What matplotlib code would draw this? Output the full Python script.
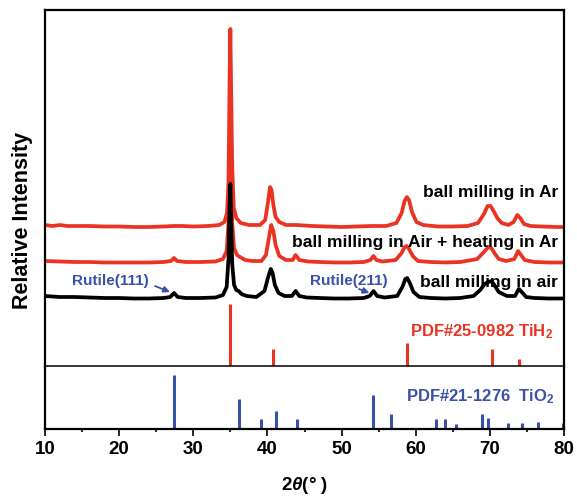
import matplotlib
matplotlib.use("Agg")
import matplotlib.pyplot as plt
import numpy as np

plt.rcParams['font.family'] = ['Liberation Sans', 'DejaVu Sans']
plt.rcParams['font.weight'] = 'bold'
plt.rcParams['mathtext.fontset'] = 'custom'
plt.rcParams['mathtext.rm'] = 'Liberation Sans:bold'
plt.rcParams['mathtext.bf'] = 'Liberation Sans:bold'
plt.rcParams['mathtext.it'] = 'Liberation Sans:bold:italic'

RED = '#eb3324'
BLUE = '#3a52a6'

# ---- data ----
# ball milling in Ar (top red)
tt_ar = [10, 11, 12, 13, 14, 16, 18, 20, 22, 24, 26, 27.4, 28.5, 30, 32, 33.5, 34.2, 34.55, 34.75, 34.9,
         35.0, 35.1, 35.25, 35.45, 35.8, 36.4, 37.5, 39.0, 39.7, 40.1, 40.35, 40.55, 40.8, 41.1, 41.6, 42.5,
         44, 46, 48, 50, 52, 54, 56, 57.4, 58.1, 58.5, 58.8, 59.1, 59.5, 60.1, 61, 63, 65, 67, 68.4, 69.2,
         69.7, 70.1, 70.5, 71.0, 71.6, 72.5, 73.2, 73.7, 74.1, 74.6, 75.5, 77, 79, 80]
int_ar = [2, 1, 2, 1, 1, 1, 0.5, 0.5, 0, 0, 0.5, 1, 1, 0.5, 1, 2, 5, 14, 45, 150,
          198, 140, 60, 20, 9, 4, 2, 2, 7, 26, 40, 37, 22, 10, 5, 2,
          2, 1, 0.5, 0, 0.5, 1, 1, 4, 14, 26, 30, 27, 15, 5, 2, 0.5, 0.5, 1, 4, 13,
          21, 21, 16, 9, 4, 2, 5, 12, 9, 3, 1, 0.5, 0, 0]

# ball milling in Air + heating in Ar (middle red)
tt_air_ar = [10, 12, 14, 16, 18, 20, 22, 24, 26, 27.0, 27.4, 27.8, 29, 31, 33, 34.0, 34.5, 34.75, 34.9, 35.0,
             35.1, 35.25, 35.5, 35.9, 36.3, 37.0, 38, 39.2, 39.8, 40.2, 40.5, 40.8, 41.1, 41.6, 42.5, 43.4,
             43.8, 44.3, 45.5, 47, 49, 51, 53, 53.9, 54.3, 54.7, 55.5, 57.3, 58.1, 58.5, 58.8, 59.1, 59.6,
             60.3, 62, 64, 66, 68.3, 69.2, 69.8, 70.2, 70.6, 71.2, 72.2, 73.3, 73.8, 74.2, 74.7, 76, 78, 80]
int_air_ar = [2, 1.5, 1, 1, 0.5, 0.5, 0.5, 0.5, 1, 2, 5, 2, 1, 1, 1.5, 4, 12, 40, 110, 150,
              100, 40, 15, 8, 6, 3, 2, 2, 8, 25, 38, 32, 18, 7, 3, 3,
              8, 3, 1.5, 1, 0.5, 0.5, 1, 3, 7, 3, 1.5, 3, 10, 16, 17, 14, 7,
              2, 1, 0.5, 1, 4, 11, 16, 15, 10, 4, 2, 4, 12, 8, 3, 1, 0.5, 0.5]

# ball milling in air (black)
tt_air = [10, 12, 14, 16, 18, 20, 22, 24, 26, 26.9, 27.4, 27.9, 29, 31, 33, 34.0, 34.5, 34.75, 34.9, 35.0,
          35.1, 35.25, 35.5, 35.8, 36.1, 36.5, 37.2, 38.5, 39.6, 40.1, 40.45, 40.7, 41.0, 41.5, 42.3, 43.3,
          43.8, 44.3, 45.3, 47, 49, 51, 53, 53.8, 54.3, 54.8, 55.8, 57.5, 58.2, 58.6, 58.85, 59.2, 59.7,
          60.5, 62, 64, 66, 67.8, 68.7, 69.3, 69.8, 70.2, 70.6, 71.2, 72.3, 73.4, 73.9, 74.3, 74.9, 76, 78, 80]
int_air = [3, 2, 2, 1.5, 1, 1, 0.5, 0.5, 1, 2, 6, 2, 1, 1, 1.5, 4, 12, 40, 95, 115,
           80, 35, 14, 9, 8, 5, 3, 2, 8, 22, 30, 26, 14, 6, 3, 3,
           8, 3, 1.5, 1, 0.5, 0.5, 1, 3, 8, 3, 1.5, 3, 12, 20, 21, 16, 7,
           2, 1, 0.5, 1, 3, 9, 15, 17, 18, 14, 7, 3, 3, 10, 7, 2, 1, 0.5, 0.5]

offset_ar, offset_air_ar, offset_air = 139, 103, 67

# PDF#25-0982 TiH2 reference sticks (relative intensity %)
tih2_pos = [35.0, 40.7, 58.8, 70.3, 73.9]
tih2_int = [100, 28, 37, 27, 11]
tih2_scale = 0.62

# PDF#21-1276 TiO2 (rutile) reference sticks (relative intensity %)
tio2_pos = [27.4, 36.1, 39.2, 41.2, 44.0, 54.3, 56.6, 62.7, 64.0, 65.5, 69.0, 69.8, 72.4, 74.4, 76.5, 79.8]
tio2_int = [100, 56, 19, 33, 19, 63, 28, 19, 19, 9, 28, 20, 11, 11, 13, 11]

xticks = [10, 20, 30, 40, 50, 60, 70, 80]

# ---- figure ----
W, H = 577, 500
fig = plt.figure(figsize=(W / 100, H / 100), dpi=100)
L, R = 45, 564
TOP, MID, BOT = 10, 366, 429
ax1 = fig.add_axes([L / W, 1 - MID / H, (R - L) / W, (MID - TOP) / H])
ax2 = fig.add_axes([L / W, 1 - BOT / H, (R - L) / W, (BOT - MID) / H], sharex=ax1)

lw = 2.7
ax1.plot(tt_ar, np.array(int_ar) + offset_ar, color=RED, lw=lw)
ax1.plot(tt_air_ar, np.array(int_air_ar) + offset_air_ar, color=RED, lw=lw)
ax1.plot(tt_air, np.array(int_air) + offset_air, color='black', lw=lw)
ax1.vlines(tih2_pos, 0, np.array(tih2_int) * tih2_scale, color=RED, lw=2.2)
ax2.vlines(tio2_pos, 0, tio2_int, color=BLUE, lw=2.2)

ax1.set_xlim(10, 80)
ax1.set_ylim(0, 356)
ax2.set_ylim(0, 117)

for ax in (ax1, ax2):
    ax.set_yticks([])
    for s in ax.spines.values():
        s.set_linewidth(1.6)
ax1.spines['bottom'].set_visible(False)
ax2.spines['top'].set_linewidth(1.1)
ax1.tick_params(axis='x', bottom=False, labelbottom=False)
ax2.set_xticks(xticks)
ax2.set_xticks(np.arange(15, 80, 10), minor=True)
ax2.tick_params(axis='x', which='major', direction='out', length=5, width=1.2, labelsize=13.5, pad=4)
ax2.tick_params(axis='x', which='minor', direction='out', length=2.5, width=1.2)
for t in ax2.get_xticklabels():
    t.set_fontweight('bold')

ax2.set_xlabel(r'2$\theta$(° )', fontsize=13.5, fontweight='bold', labelpad=12)
fig.text(23 / W, 1 - 220 / H, 'Relative Intensity', rotation=90, ha='center', va='center',
         fontsize=15.5, fontweight='bold')

fs = 12.5
ax1.text(79.2, 173, 'ball milling in Ar', ha='right', va='center', fontsize=fs, fontweight='bold')
ax1.text(79.2, 123, 'ball milling in Air + heating in Ar', ha='right', va='center', fontsize=fs,
         fontweight='bold')
ax1.text(79.2, 84, 'ball milling in air', ha='right', va='center', fontsize=fs, fontweight='bold')

ax1.text(13.7, 85, 'Rutile(111)', ha='left', va='center', fontsize=11, fontweight='bold', color=BLUE)
ax1.annotate('', xy=(27.2, 73), xytext=(24.5, 81),
             arrowprops=dict(arrowstyle='-|>', color=BLUE, lw=1.3, mutation_scale=9))
ax1.text(45.7, 85, 'Rutile(211)', ha='left', va='center', fontsize=11, fontweight='bold', color=BLUE)
ax1.annotate('', xy=(54.1, 72), xytext=(52.0, 78),
             arrowprops=dict(arrowstyle='-|>', color=BLUE, lw=1.3, mutation_scale=9))

ax1.text(78.5, 34, r'PDF#25-0982 TiH$_2$', ha='right', va='center', fontsize=12, fontweight='bold',
         color=RED)
ax2.text(78.8, 60, r'PDF#21-1276  TiO$_2$', ha='right', va='center', fontsize=12, fontweight='bold',
         color=BLUE)

fig.savefig('out.png', dpi=100)
